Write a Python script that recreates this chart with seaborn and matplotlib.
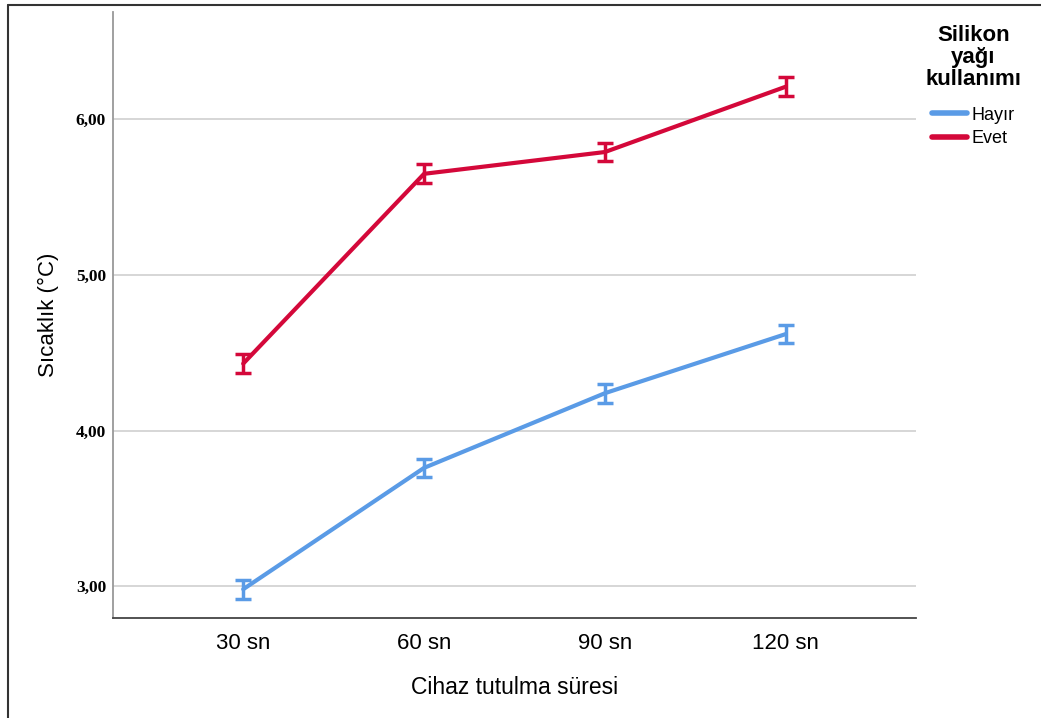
import pandas as pd
import seaborn as sns
import matplotlib.pyplot as plt
from matplotlib.lines import Line2D

durations = ["30 sn", "60 sn", "90 sn", "120 sn"]
hayir_mean = [2.98, 3.76, 4.24, 4.62]
evet_mean = [4.43, 5.65, 5.79, 6.21]
hayir_err = [0.06, 0.06, 0.06, 0.06]
evet_err = [0.06, 0.06, 0.06, 0.06]
groups = ["Hayır", "Evet"]
colors = {"Hayır": "#5A9BE6", "Evet": "#D4083A"}

df = pd.DataFrame({
    "sure": durations * 2,
    "sicaklik": hayir_mean + evet_mean,
    "err": hayir_err + evet_err,
    "grup": [groups[0]] * 4 + [groups[1]] * 4,
})

sns.set_style("white")
plt.rcParams['font.family'] = ['Liberation Sans', 'DejaVu Sans']
plt.rcParams['text.color'] = 'black'
plt.rcParams['axes.labelcolor'] = 'black'
plt.rcParams['xtick.color'] = 'black'
plt.rcParams['ytick.color'] = 'black'

fig = plt.figure(figsize=(10.41, 7.18), dpi=100)
ax = fig.add_axes([113 / 1041, 1 - 618 / 718, (916 - 113) / 1041, (618 - 12) / 718])

sns.lineplot(data=df, x="sure", y="sicaklik", hue="grup", palette=colors,
             linewidth=3, ax=ax, sort=False, zorder=3)

# error bars from the explicit +/- values
for g in groups:
    sub = df[df["grup"] == g]
    ax.errorbar(sub["sure"], sub["sicaklik"], yerr=sub["err"], fmt="none",
                ecolor=colors[g], elinewidth=2.5, capsize=5.5, capthick=2.5, zorder=4)

ax.set_xlim(-0.72, 3.72)
ax.set_ylim(2.795, 6.69)
ax.set_yticks([3, 4, 5, 6])
ax.set_yticklabels(["3,00", "4,00", "5,00", "6,00"], family="Liberation Serif",
                   fontweight="bold", fontsize=12.5)
ax.grid(axis="y", color="#D0D0D0", linewidth=1.2, zorder=0)
ax.set_axisbelow(True)
ax.tick_params(axis="y", length=0, pad=5)
ax.tick_params(axis="x", length=0, pad=11, labelsize=16)

for s in ["top", "right"]:
    ax.spines[s].set_visible(False)
ax.spines["left"].set_color("#999999")
ax.spines["left"].set_linewidth(1.3)
ax.spines["bottom"].set_color("#444444")
ax.spines["bottom"].set_linewidth(1.3)

ax.set_xlabel("Cihaz tutulma süresi", fontsize=16.5, labelpad=16)
ax.set_ylabel("Sıcaklık (°C)", fontsize=16, labelpad=12)

handles, labels = ax.get_legend_handles_labels()
leg = ax.legend(handles, labels, title="Silikon\nyağı\nkullanımı", frameon=False,
                loc="upper left", bbox_to_anchor=(902 / 1041, 1 - 2 / 718),
                bbox_transform=fig.transFigure, fontsize=13, handlelength=1.9,
                handletextpad=0.25, labelspacing=0.36, borderpad=0.8)
leg.get_title().set_fontsize(16)
leg.get_title().set_fontweight("bold")
leg.get_title().set_multialignment("center")
leg.get_title().set_linespacing(1.05)
leg._legend_box.sep = 12
for h in leg.legend_handles:
    h.set_linewidth(4)

# outer frame
fig.add_artist(Line2D([8 / 1041, 8 / 1041], [0, 1 - 5 / 718], color="#333333",
                      linewidth=1.5, transform=fig.transFigure))
fig.add_artist(Line2D([8 / 1041, 1], [1 - 5 / 718, 1 - 5 / 718], color="#333333",
                      linewidth=1.5, transform=fig.transFigure))

plt.savefig("out.png", dpi=100)
